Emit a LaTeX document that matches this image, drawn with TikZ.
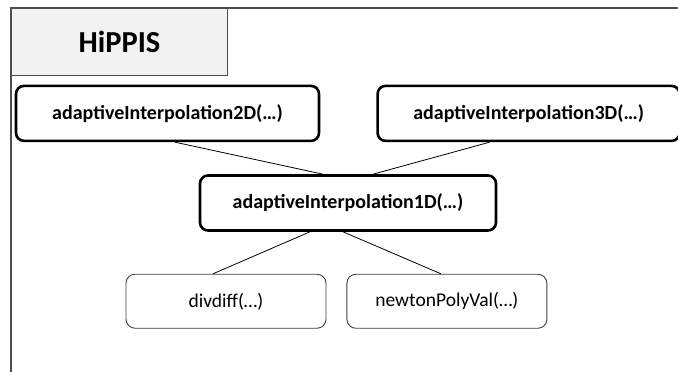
\documentclass[tikz,border=0pt]{standalone}
\usepackage{fontspec}
\setmainfont{Carlito}
\usetikzlibrary{positioning}

\tikzset{
  func/.style={draw=black, line width=2.6pt, rounded corners=8pt, fill=white,
    inner sep=0pt, minimum height=55pt, font=\fontsize{20}{22}\selectfont\bfseries},
  helper/.style={draw=black!75, line width=0.9pt, rounded corners=9pt, fill=white,
    inner sep=0pt, minimum width=200pt, minimum height=54pt, font=\fontsize{19.5}{22}\selectfont},
  tab/.style={draw=black!70, line width=0.9pt, fill=black!5, inner sep=0pt,
    minimum width=216pt, minimum height=67pt, font=\fontsize{30.5}{34}\selectfont\bfseries},
  link/.style={draw=black, line width=0.8pt}
}

\begin{document}
\begin{tikzpicture}[x=1pt, y=1pt]
  \useasboundingbox (0,0) rectangle (678,372);
  % Package frame
  \draw[black!70, line width=1.2pt] (11,0) -- (11,364) -- (678,364);
  \node[tab, anchor=north west] (title) at (11,364) {HiPPIS};
  % Define nodes
  \node[func, minimum width=296pt] (n1d) at (348,169) {adaptiveInterpolation1D(\ldots)};
  \node[func, minimum width=303pt, above=32pt of n1d, xshift=-180.5pt] (n2d) {adaptiveInterpolation2D(\ldots)};
  \node[func, minimum width=302pt, right=56pt of n2d] (n3d) {adaptiveInterpolation3D(\ldots)};
  \node[helper, below=42pt of n1d, xshift=-122pt] (divdiff) {divdiff(\ldots)};
  \node[helper, right=20pt of divdiff] (newton) {newtonPolyVal(\ldots)};
  % Connect nodes
  \draw[link] ([xshift=7.5pt]n2d.south) -- ([xshift=-25pt]n1d.north);
  \draw[link] ([xshift=-39pt]n3d.south) -- ([xshift=25pt]n1d.north);
  \draw[link] ([xshift=-38pt]n1d.south) -- ([xshift=-13pt]divdiff.north);
  \draw[link] ([xshift=-5pt]n1d.south) -- ([xshift=-6pt]newton.north);
\end{tikzpicture}
\end{document}
